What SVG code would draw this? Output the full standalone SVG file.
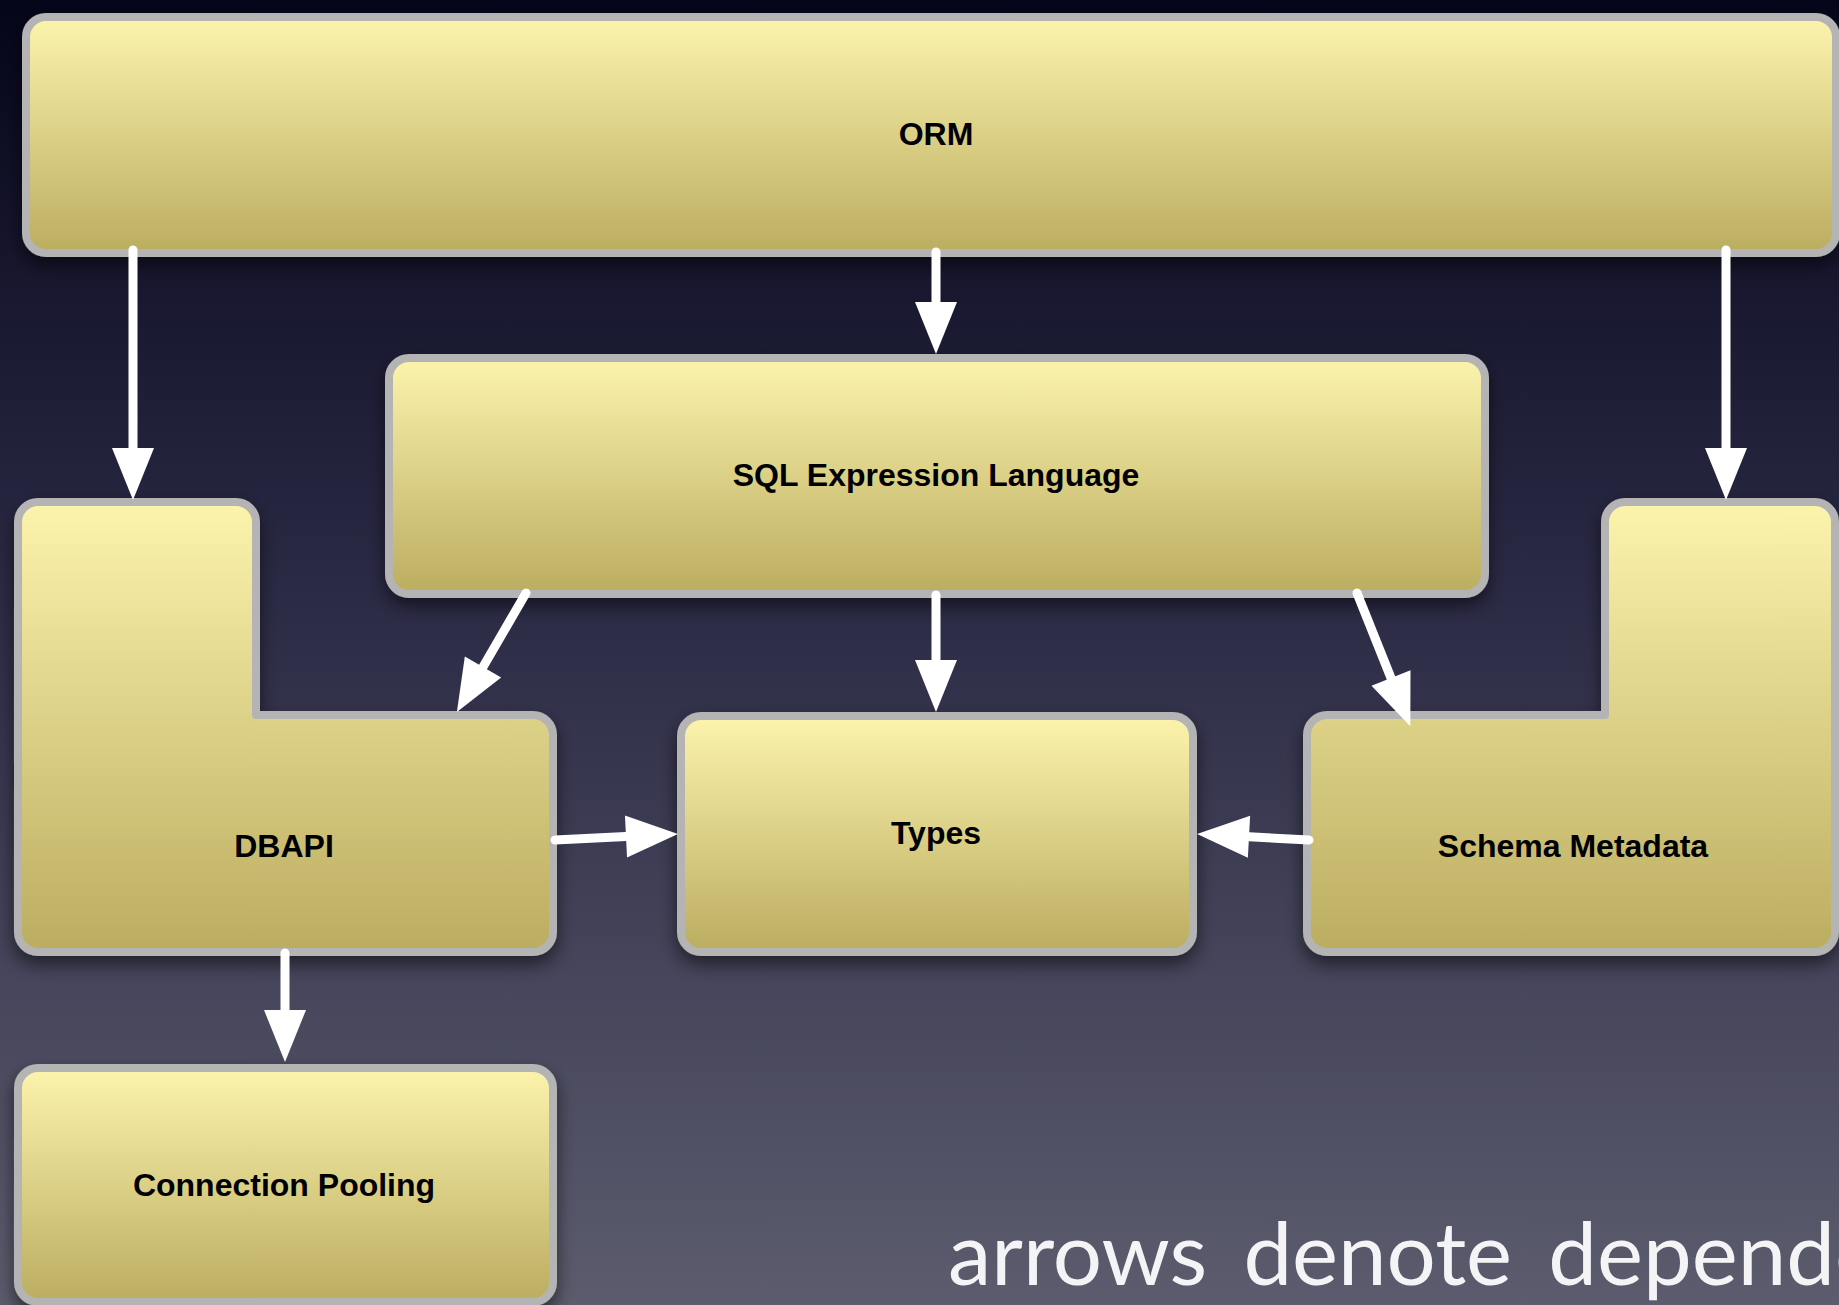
<svg xmlns="http://www.w3.org/2000/svg" width="1839" height="1305" viewBox="0 0 1839 1305">
  <defs>
    <linearGradient id="bg" x1="0" y1="0" x2="0" y2="1">
      <stop offset="0" stop-color="#05051a"/>
      <stop offset="0.45" stop-color="#2b2a45"/>
      <stop offset="1" stop-color="#5c5c6e"/>
    </linearGradient>
    <linearGradient id="fill" x1="0" y1="0" x2="0" y2="1">
      <stop offset="0" stop-color="#fcf3ad"/>
      <stop offset="1" stop-color="#bbad60"/>
    </linearGradient>
    <filter id="shadow" x="-10%" y="-10%" width="120%" height="130%">
      <feDropShadow dx="0" dy="8" stdDeviation="9" flood-color="#000000" flood-opacity="0.55"/>
    </filter>
    <marker id="ah" markerUnits="userSpaceOnUse" markerWidth="52" markerHeight="42" viewBox="0 0 52 42" refX="0" refY="21" orient="auto" overflow="visible">
      <path d="M0,0 L52,21 L0,42 Z" fill="#ffffff"/>
    </marker>
  </defs>
  <style>
    .box { fill: url(#fill); stroke: #b4b4b4; stroke-width: 8; stroke-linejoin: round; filter: url(#shadow); }
    .lbl { font-family: "Liberation Sans", Arial, Helvetica, sans-serif; font-weight: bold; font-size: 32px; fill: #000000; text-anchor: middle; }
    .conn { stroke: #ffffff; stroke-width: 9; stroke-linecap: round; fill: none; marker-end: url(#ah); }
    .note { font-family: Lato, "Open Sans", sans-serif; font-size: 87px; fill: #f4f4f6; word-spacing: 14px; }
  </style>
  <rect x="0" y="0" width="1839" height="1305" fill="url(#bg)"/>

  <g id="nodes">
    <g id="orm">
      <rect class="box" x="26" y="17" width="1810" height="236" rx="20" ry="20"/>
      <text class="lbl" x="936" y="145">ORM</text>
    </g>
    <g id="sql">
      <rect class="box" x="389" y="358" width="1096" height="236" rx="20" ry="20"/>
      <text class="lbl" x="936" y="486">SQL Expression Language</text>
    </g>
    <g id="dbapi">
      <path class="box" d="M38,502 H236 A20,20 0 0 1 256,522 V715 H533 A20,20 0 0 1 553,735 V932 A20,20 0 0 1 533,952 H38 A20,20 0 0 1 18,932 V522 A20,20 0 0 1 38,502 Z"/>
      <text class="lbl" x="284" y="857">DBAPI</text>
    </g>
    <g id="types">
      <rect class="box" x="681" y="716" width="512" height="236" rx="20" ry="20"/>
      <text class="lbl" x="936" y="844">Types</text>
    </g>
    <g id="schema">
      <path class="box" d="M1625,502 H1815 A20,20 0 0 1 1835,522 V932 A20,20 0 0 1 1815,952 H1327 A20,20 0 0 1 1307,932 V735 A20,20 0 0 1 1327,715 H1605 V522 A20,20 0 0 1 1625,502 Z"/>
      <text class="lbl" x="1573" y="857">Schema Metadata</text>
    </g>
    <g id="pooling">
      <rect class="box" x="18" y="1068" width="535" height="234" rx="20" ry="20"/>
      <text class="lbl" x="284" y="1196">Connection Pooling</text>
    </g>
  </g>

  <g id="connectors">
    <line class="conn" x1="133" y1="250" x2="133" y2="448"/>
    <line class="conn" x1="936" y1="252" x2="936" y2="302"/>
    <line class="conn" x1="1726" y1="250" x2="1726" y2="448"/>
    <line class="conn" x1="526" y1="593" x2="483" y2="667"/>
    <line class="conn" x1="936" y1="595" x2="936" y2="660"/>
    <line class="conn" x1="1357" y1="593" x2="1391" y2="678"/>
    <line class="conn" x1="555" y1="840" x2="626" y2="836.5"/>
    <line class="conn" x1="1309" y1="840" x2="1249" y2="836.8"/>
    <line class="conn" x1="285" y1="953" x2="285" y2="1010"/>
  </g>

  <text class="note" x="948" y="1285">arrows denote dependencies</text>
</svg>
